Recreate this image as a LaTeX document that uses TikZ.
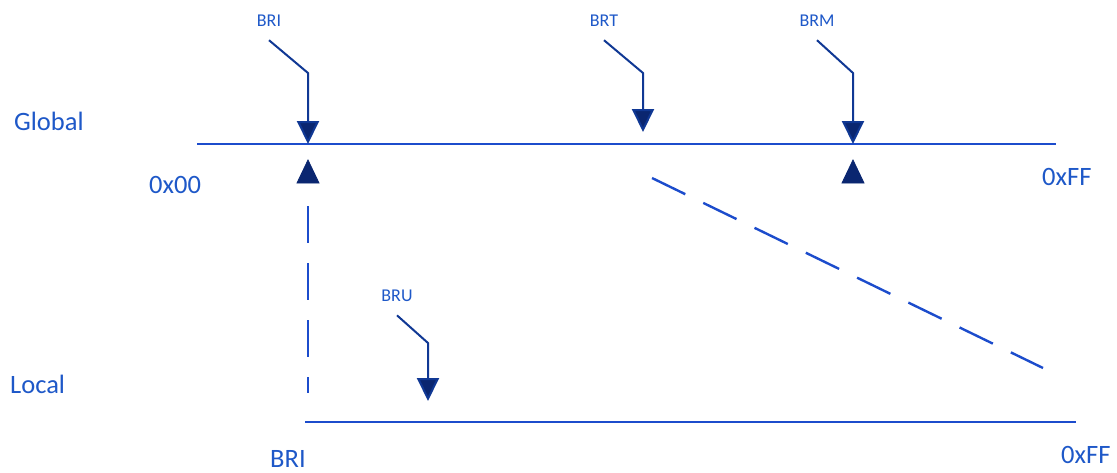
\documentclass[tikz,border=0pt]{standalone}
\usepackage{fontspec}
\setmainfont{Carlito}
\usepackage{tikz}
\usetikzlibrary{arrows.meta, calc}
\definecolor{lineblue}{RGB}{28,76,204}
\definecolor{textblue}{RGB}{30,88,200}
\definecolor{navy}{RGB}{10,38,112}
\definecolor{calloutblue}{RGB}{16,56,148}

\begin{document}
\begin{tikzpicture}[x=1pt, y=-1pt,
    axis/.style={lineblue, line width=2.4pt},
    guide/.style={lineblue, line width=2.4pt, dash pattern=on 37pt off 20pt},
    callout/.style={calloutblue, line width=2pt, -{Triangle[length=23pt, width=22pt, fill=navy]}},
    marker/.style={fill=navy, draw=navy, line width=0.8pt, line join=miter},
    big/.style={text=textblue, font=\fontsize{26.5}{30}\selectfont, inner sep=0pt},
    small/.style={text=textblue, font=\fontsize{18}{21}\selectfont, inner sep=14pt}]
    \useasboundingbox (0,0) rectangle (1117,472);

    % axes
    \coordinate (gStart) at (197,144);
    \coordinate (gEnd) at (1056,144);
    \coordinate (lStart) at (305,422);
    \coordinate (lEnd) at (1076,422);
    \draw[axis] (gStart) -- (gEnd);
    \draw[axis] (lStart) -- (lEnd);

    \node[big, anchor=base west] (global) at (14,130) {Global};
    \node[big, anchor=base west] (local) at (10,393) {Local};
    \node[big, anchor=base west] (g00) at (149,193) {0x00};
    \node[big, anchor=base west] (gFF) at (1042,185) {0xFF};
    \node[big, anchor=base west] (lBRI) at (270,467) {BRI};
    \node[big, anchor=base west] (lFF) at (1061,463) {0xFF};

    % pointers
    \node[small, anchor=base] (lblBRI) at (269,26) {BRI};
    \node[small, anchor=base] (lblBRT) at (604,26) {BRT};
    \node[small, anchor=base] (lblBRM) at (817,26) {BRM};
    \node[small, anchor=base] (lblBRU) at (397,301) {BRU};

    \coordinate (kBRI) at (308,73);
    \coordinate (kBRT) at (643,73);
    \coordinate (kBRM) at (853,73);
    \coordinate (kBRU) at (428,343);
    \coordinate (tBRI) at (308,144);
    \coordinate (tBRT) at (643,132);
    \coordinate (tBRM) at (853,144);
    \coordinate (tBRU) at (428,401);

    \draw[callout] (lblBRI.south) -- (kBRI) -- (tBRI);
    \draw[callout] (lblBRT.south) -- (kBRT) -- (tBRT);
    \draw[callout] (lblBRM.south) -- (kBRM) -- (tBRM);
    \draw[callout] (lblBRU.south) -- (kBRU) -- (tBRU);

    \coordinate (upBRI) at (308,160);
    \coordinate (upBRM) at (853,160);
    \filldraw[marker] (upBRI) -- ($(upBRI)+(11,23)$) -- ($(upBRI)+(-11,23)$) -- cycle;
    \filldraw[marker] (upBRM) -- ($(upBRM)+(11,23)$) -- ($(upBRM)+(-11,23)$) -- cycle;

    % mapping
    \coordinate (vTop) at (308,206);
    \coordinate (vBot) at (308,393);
    \coordinate (dTop) at (652,178);
    \coordinate (dBot) at (1043,368);
    \draw[guide] (vTop) -- (vBot);
    \draw[guide] (dTop) -- (dBot);
\end{tikzpicture}
\end{document}
